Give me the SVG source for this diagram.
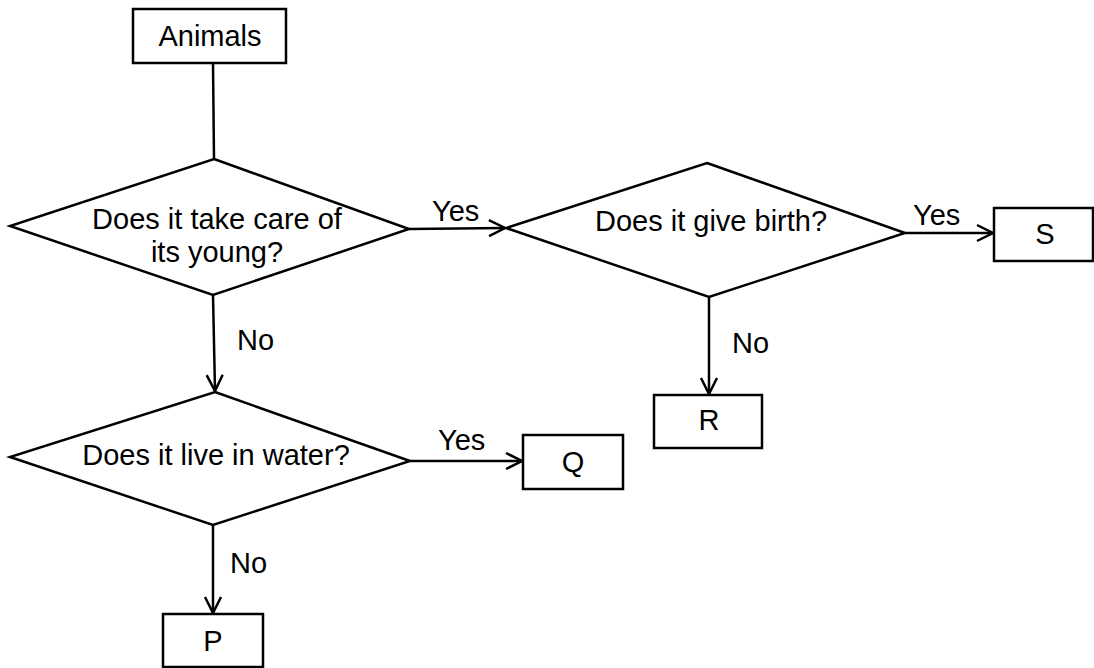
<svg xmlns="http://www.w3.org/2000/svg" width="1094" height="668" viewBox="0 0 1094 668">
<style>
.box{fill:#fff;stroke:#000;stroke-width:2.5}
.dia{fill:#fff;stroke:#000;stroke-width:2.5;stroke-linejoin:miter}
.t{font-family:"Liberation Sans",Arial,sans-serif;font-size:29px;fill:#000}
.c{text-anchor:middle}
.ln{stroke:#000;stroke-width:2.5;fill:none}
</style>
<defs>
<marker id="ah" markerUnits="userSpaceOnUse" markerWidth="24" markerHeight="24" refX="0" refY="0" viewBox="-20 -12 24 24" orient="auto" overflow="visible">
<path d="M-16,-8 L0,0 L-16,8" fill="none" stroke="#000" stroke-width="2.5"/>
</marker>
</defs>
<rect width="1094" height="668" fill="#fff"/>
<g id="connectors">
<line class="ln" x1="213" y1="63" x2="214" y2="159"/>
<line class="ln" x1="409" y1="229" x2="505" y2="228" marker-end="url(#ah)"/>
<line class="ln" x1="905" y1="233" x2="993" y2="233" marker-end="url(#ah)"/>
<line class="ln" x1="709" y1="297" x2="709" y2="394" marker-end="url(#ah)"/>
<line class="ln" x1="213" y1="295" x2="215" y2="391" marker-end="url(#ah)"/>
<line class="ln" x1="410" y1="461" x2="522" y2="461" marker-end="url(#ah)"/>
<line class="ln" x1="213" y1="525" x2="213" y2="613" marker-end="url(#ah)"/>
<text class="t" x="432" y="221">Yes</text>
<text class="t" x="913" y="225">Yes</text>
<text class="t" x="438" y="450">Yes</text>
<text class="t" x="237" y="350">No</text>
<text class="t" x="732" y="353">No</text>
<text class="t" x="230" y="573">No</text>
</g>
<g id="animals">
<rect class="box" x="133" y="9" width="153" height="54"/>
<text class="t c" x="210" y="46">Animals</text>
</g>
<g id="q1">
<polygon class="dia" points="214,159 409,229 213,295 10,226"/>
<text class="t c" x="217" y="229">Does it take care of</text>
<text class="t c" x="217" y="262">its young?</text>
</g>
<g id="q2">
<polygon class="dia" points="707,163 905,233 709,297 506,228"/>
<text class="t c" x="711" y="231">Does it give birth?</text>
</g>
<g id="q3">
<polygon class="dia" points="215,392 410,461 213,525 10,457"/>
<text class="t c" x="216" y="465">Does it live in water?</text>
</g>
<g id="s">
<rect class="box" x="994" y="208" width="99" height="53"/>
<text class="t c" x="1045" y="244">S</text>
</g>
<g id="r">
<rect class="box" x="654" y="395" width="108" height="53"/>
<text class="t c" x="709" y="430">R</text>
</g>
<g id="q">
<rect class="box" x="523" y="435" width="100" height="54"/>
<text class="t c" x="573" y="472">Q</text>
</g>
<g id="p">
<rect class="box" x="163" y="614" width="100" height="53"/>
<text class="t c" x="213" y="651">P</text>
</g>
</svg>
